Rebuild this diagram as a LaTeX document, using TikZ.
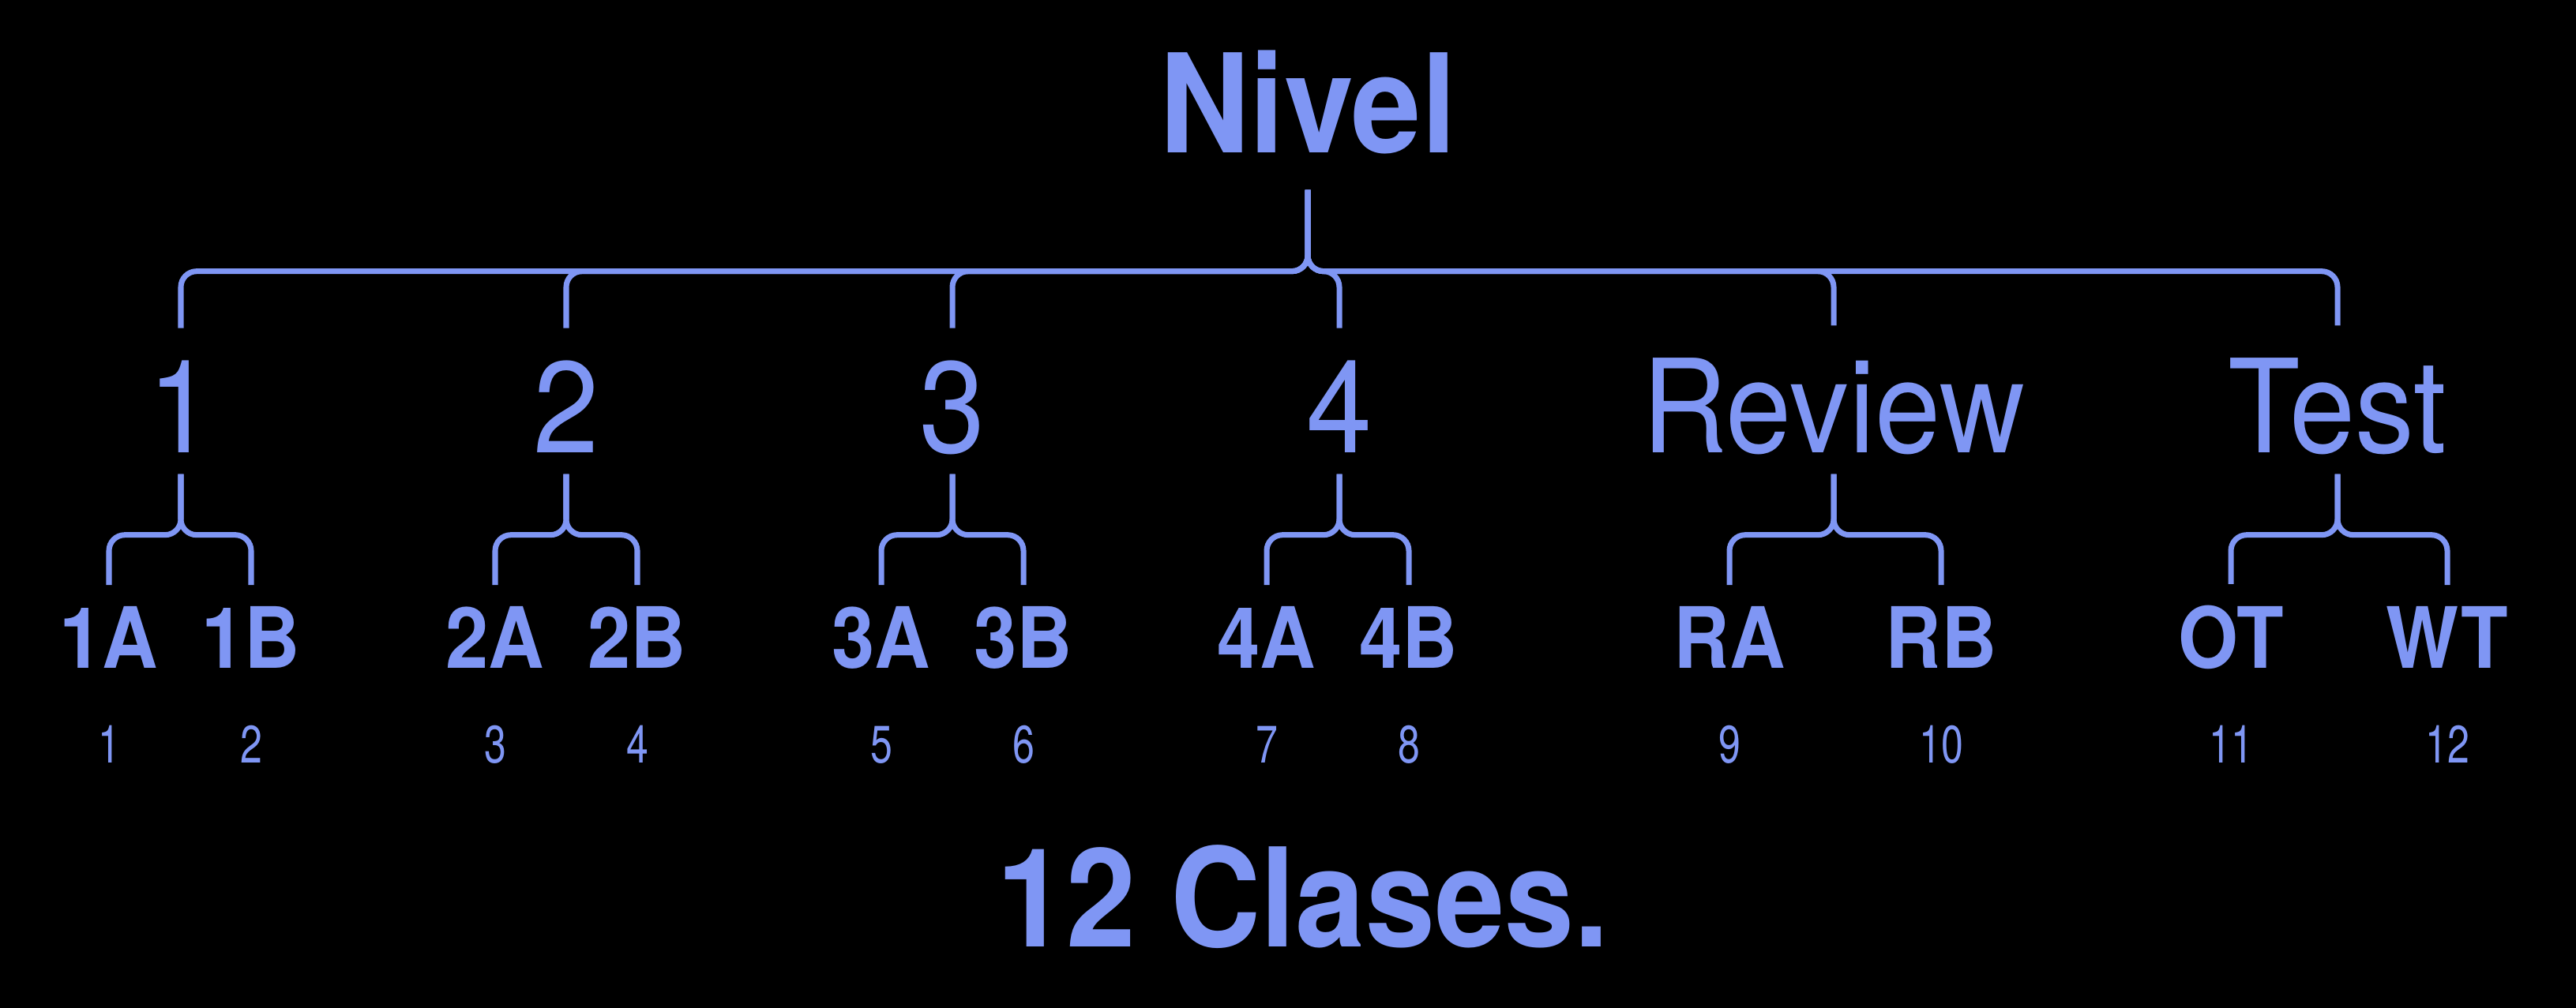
\documentclass[tikz,border=0pt]{standalone}
\usepackage{fontspec}
\setmainfont{TeX Gyre Heros}
\newfontfamily\tightfont[FakeStretch=0.91]{TeX Gyre Heros}
\newfontfamily\narrowfont[FakeStretch=0.75]{TeX Gyre Heros}
\definecolor{lav}{RGB}{127,150,244}
\tikzset{every node/.style={text=lav,inner sep=0pt,text depth=0pt,anchor=base}}
\tikzset{title/.style={font=\tightfont\bfseries\fontsize{49.5}{50}\selectfont}}
\tikzset{level/.style={font=\tightfont\fontsize{46.8}{47}\selectfont}}
\tikzset{class/.style={font=\tightfont\bfseries\fontsize{30.5}{31}\selectfont}}
\tikzset{count/.style={font=\narrowfont\fontsize{19}{19}\selectfont}}
\tikzset{link/.style={draw=lav,line width=2pt}}

\begin{document}
\begin{tikzpicture}
    \fill[black] (0,0) rectangle (32.62,12.77);
    \useasboundingbox (0,0) rectangle (32.62,12.77);
    \node[title] (nivel) at (16.56,10.83) {Nivel};
    \foreach \n/\x/\t in {g1/2.29/1,g2/7.17/2,g3/12.06/3,g4/16.96/4,gr/23.22/Review,gt/29.6/Test}
        \node[level] (\n) at (\x,7.03) {\t};
    \foreach \n/\x/\t/\k in {l1a/1.38/1A/1,l1b/3.18/1B/2,l2a/6.27/2A/3,l2b/8.07/2B/4,
                             l3a/11.16/3A/5,l3b/12.96/3B/6,l4a/16.04/4A/7,l4b/17.84/4B/8,
                             lra/21.9/RA/9,lrb/24.58/RB/10,lta/28.25/OT/11,ltb/30.99/WT/12} {
        \node[class] (\n) at (\x,4.30) {\t};
        \node[count] (\n-k) at (\x,3.10) {\k};
    }
    \node[title] (total) at (16.5,0.77) {12 Clases.};
    % top bracket
    \foreach \c/\d in {g1/-1,g2/-1,g3/-1,g4/1,gr/1,gt/1}
        \draw[link,shorten <=4.6mm,shorten >=4.1mm] (nivel.south) -- ++(0,-1.29)
            to[out=-90,in={90+90*\d}] ++(0.2*\d,-0.2) [rounded corners=2mm] -| (\c.north);
    % small brackets
    \foreach \p/\a/\b in {g1/l1a/l1b,g2/l2a/l2b,g3/l3a/l3b,g4/l4a/l4b,gr/lra/lrb,gt/lta/ltb} {
        \draw[link,shorten <=2.6mm,shorten >=2.7mm] (\p.south) -- ++(0,-0.83)
            to[out=-90,in=0] ++(-0.2,-0.2) [rounded corners=2mm] -| (\a.north);
        \draw[link,shorten <=2.6mm,shorten >=2.7mm] (\p.south) -- ++(0,-0.83)
            to[out=-90,in=180] ++(0.2,-0.2) [rounded corners=2mm] -| (\b.north);
    }
\end{tikzpicture}
\end{document}
